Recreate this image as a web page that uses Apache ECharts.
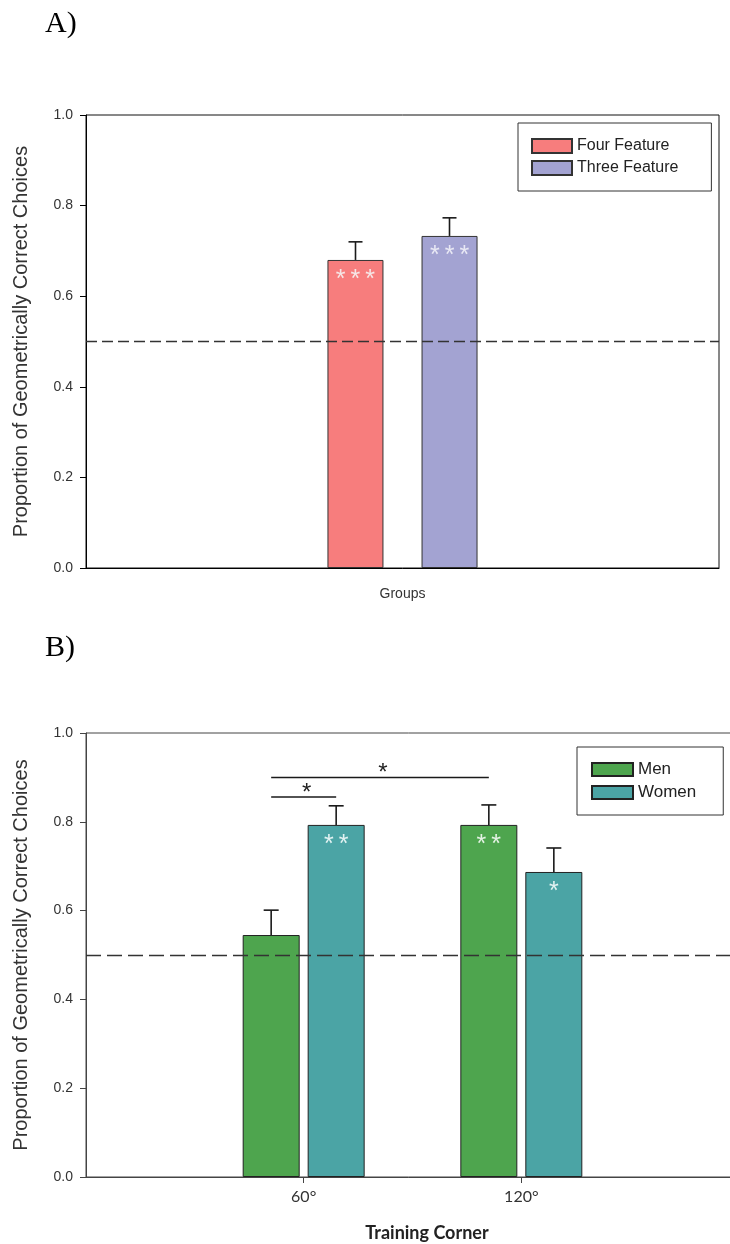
<!DOCTYPE html>
<html>
<head>
<meta charset="utf-8">
<script src="https://cdn.jsdelivr.net/npm/echarts@6/dist/echarts.min.js"></script>
<style>
html,body{margin:0;padding:0;background:#fff;}
#chart{width:730px;height:1244px;}
</style>
</head>
<body>
<div id="chart"></div>
<script>
// ---------- Data ----------
const panelATitle = 'A)';
const panelBTitle = 'B)';
const yAxisTitle = 'Proportion of Geometrically Correct Choices';
const chanceLevel = 0.5;

// Panel A
const groupsA = ['Groups'];
const namesA = ['Four Feature', 'Three Feature'];
const fourFeature = [0.68];
const fourFeatureUpper = [0.72];
const threeFeature = [0.733];
const threeFeatureUpper = [0.773];
const starsFour = ['***'];
const starsThree = ['***'];

// Panel B
const xTitleB = 'Training Corner';
const cornersB = ['', '60°', '120°', ''];
const namesB = ['Men', 'Women'];
const men = [null, 0.545, 0.793, null];
const menUpper = [null, 0.601, 0.838, null];
const women = [null, 0.793, 0.687, null];
const womenUpper = [null, 0.836, 0.741, null];
const starsMen = ['', '', '**', ''];
const starsWomen = ['', '**', '*', ''];
// comparisons: [fromCategoryIndex, fromSeries, toCategoryIndex, toSeries, height, mark]
const comparisonsB = [
  [1, 'Men', 2, 'Men', 0.90, '*'],
  [1, 'Men', 1, 'Women', 0.856, '*']
];

// ---------- Helpers ----------
const sansFont = '"Liberation Sans", Arial, sans-serif';
const narrowFont = '"Liberation Sans Narrow", Lato, sans-serif';
const spaced = s => (s || '').split('').join('\u2009');

function errData(mean, upper) {
  const out = [];
  mean.forEach((m, i) => { if (m != null) out.push([i, m, upper[i]]); });
  return out;
}
function errRender(offset, capHalf) {
  return function (params, api) {
    const i = api.value(0), m = api.value(1), t = api.value(2);
    const base = api.coord([i, m]);
    const top = api.coord([i, t]);
    const x = base[0] + offset;
    const st = { stroke: '#1a1a1a', lineWidth: 1.6 };
    return {
      type: 'group',
      children: [
        { type: 'line', shape: { x1: x, y1: base[1], x2: x, y2: top[1] }, style: st },
        { type: 'line', shape: { x1: x - capHalf, y1: top[1], x2: x + capHalf, y2: top[1] }, style: st }
      ]
    };
  };
}
const offB = 32.5;
const offA = 47;

const yAxisCommon = {
  type: 'value', min: 0, max: 1, interval: 0.2,
  name: yAxisTitle, nameLocation: 'middle', nameGap: 55,
  nameTextStyle: { fontSize: 20, color: '#333', fontFamily: sansFont },
  axisLabel: { formatter: v => v.toFixed(1), fontSize: 14, color: '#333', fontFamily: sansFont, margin: 13 },
  splitLine: { show: false }
};

const starLabel = (arr, color) => ({
  show: true, position: 'insideTop', distance: 8,
  formatter: p => spaced(arr[p.dataIndex]),
  color: color, fontSize: 25, fontFamily: sansFont
});

const option = {
  animation: false,
  backgroundColor: '#fff',
  title: [
    { text: panelATitle, left: 40, top: 4, textStyle: { fontFamily: '"Liberation Serif", serif', fontSize: 30, fontWeight: 'normal', color: '#000' } },
    { text: panelBTitle, left: 40, top: 628, textStyle: { fontFamily: '"Liberation Serif", serif', fontSize: 30, fontWeight: 'normal', color: '#000' } }
  ],
  grid: [
    { left: 86, top: 115, width: 633, height: 453, show: true, borderColor: '#111', borderWidth: 1, backgroundColor: 'transparent', outerBoundsMode: 'none' },
    { left: 86, top: 733, width: 653, height: 444, show: true, borderColor: '#444', borderWidth: 1, backgroundColor: 'transparent', outerBoundsMode: 'none' }
  ],
  legend: [
    {
      data: namesA, orient: 'vertical', left: 518, top: 123,
      itemWidth: 40, itemHeight: 14, itemGap: 6,
      padding: [15, 33, 15, 13],
      borderColor: '#333', borderWidth: 1,
      icon: 'rect',
      textStyle: { fontSize: 16, color: '#222', fontFamily: sansFont }
    },
    {
      data: namesB, orient: 'vertical', left: 577, top: 747,
      itemWidth: 41, itemHeight: 13, itemGap: 6,
      padding: [14, 27, 14, 14],
      borderColor: '#333', borderWidth: 1,
      icon: 'rect',
      textStyle: { fontSize: 17, color: '#222', fontFamily: sansFont }
    }
  ],
  xAxis: [
    {
      type: 'category', gridIndex: 0, data: groupsA, boundaryGap: true,
      axisLine: { lineStyle: { color: '#000', width: 1 } },
      axisTick: { alignWithLabel: true, length: 6, lineStyle: { color: '#000' } },
      axisLabel: { fontSize: 14, color: '#333', fontFamily: sansFont, margin: 19 }
    },
    {
      type: 'category', gridIndex: 1, data: cornersB, boundaryGap: false,
      axisLine: { lineStyle: { color: '#444', width: 1 } },
      axisTick: { length: 6, interval: (i, v) => v !== '', lineStyle: { color: '#444' } },
      axisLabel: { fontSize: 16, color: '#333', fontFamily: narrowFont, margin: 12, interval: 0 },
      name: xTitleB, nameLocation: 'middle', nameGap: 47,
      nameTextStyle: { fontSize: 18, color: '#222', fontFamily: narrowFont, fontWeight: 'bold', padding: [0, 0, 0, 29] }
    }
  ],
  yAxis: [
    Object.assign({}, yAxisCommon, { gridIndex: 0, axisLine: { show: true, lineStyle: { color: '#000' } }, axisTick: { show: true, length: 6, lineStyle: { color: '#000' } } }),
    Object.assign({}, yAxisCommon, { gridIndex: 1, axisLine: { show: true, lineStyle: { color: '#444' } }, axisTick: { show: true, length: 6, lineStyle: { color: '#444' } } })
  ],
  series: [
    {
      name: namesA[0], type: 'bar', xAxisIndex: 0, yAxisIndex: 0, data: fourFeature,
      barWidth: 56, barGap: '68%',
      itemStyle: { color: '#f77d7d', borderColor: '#333', borderWidth: 1 },
      label: starLabel(starsFour, '#f6e6e6'),
      markLine: {
        silent: true, symbol: 'none', label: { show: false },
        lineStyle: { type: [11, 5], color: '#333', width: 1.3 },
        data: [{ yAxis: chanceLevel }]
      }
    },
    {
      name: namesA[1], type: 'bar', xAxisIndex: 0, yAxisIndex: 0, data: threeFeature,
      barWidth: 56, barGap: '68%',
      itemStyle: { color: '#a3a3d2', borderColor: '#333', borderWidth: 1 },
      label: starLabel(starsThree, '#e8e8f4')
    },
    {
      type: 'custom', xAxisIndex: 0, yAxisIndex: 0, z: 3,
      data: errData(fourFeature, fourFeatureUpper), renderItem: errRender(-offA, 7)
    },
    {
      type: 'custom', xAxisIndex: 0, yAxisIndex: 0, z: 3,
      data: errData(threeFeature, threeFeatureUpper), renderItem: errRender(offA, 7)
    },
    {
      name: namesB[0], type: 'bar', xAxisIndex: 1, yAxisIndex: 1, data: men,
      barWidth: 57, barGap: '14%',
      itemStyle: { color: '#4ea54e', borderColor: '#222', borderWidth: 1 },
      label: starLabel(starsMen, '#e4f2e4'),
      markLine: {
        silent: true, symbol: 'none', label: { show: false },
        lineStyle: { type: [15, 6], color: '#333', width: 1.3 },
        data: [{ yAxis: chanceLevel }]
      }
    },
    {
      name: namesB[1], type: 'bar', xAxisIndex: 1, yAxisIndex: 1, data: women,
      barWidth: 57, barGap: '14%',
      itemStyle: { color: '#4ba4a5', borderColor: '#222', borderWidth: 1 },
      label: starLabel(starsWomen, '#e2f2f2')
    },
    {
      type: 'custom', xAxisIndex: 1, yAxisIndex: 1, z: 3,
      data: errData(men, menUpper), renderItem: errRender(-offB, 7.5)
    },
    {
      type: 'custom', xAxisIndex: 1, yAxisIndex: 1, z: 3,
      data: errData(women, womenUpper), renderItem: errRender(offB, 7.5)
    },
    {
      type: 'custom', xAxisIndex: 1, yAxisIndex: 1, z: 4,
      data: comparisonsB.map(c => [c[0], namesB.indexOf(c[1]), c[2], namesB.indexOf(c[3]), c[4]]),
      renderItem: function (params, api) {
        const c0 = api.value(0), s0 = api.value(1), c1 = api.value(2), s1 = api.value(3), h = api.value(4);
        const p0 = api.coord([c0, h]);
        const p1 = api.coord([c1, h]);
        const x0 = p0[0] + (s0 === 0 ? -offB : offB);
        const x1 = p1[0] + (s1 === 0 ? -offB : offB);
        const mark = comparisonsB[params.dataIndex][5];
        return {
          type: 'group',
          children: [
            { type: 'line', shape: { x1: x0, y1: p0[1], x2: x1, y2: p0[1] }, style: { stroke: '#1a1a1a', lineWidth: 1.5 } },
            { type: 'text', x: (x0 + x1) / 2 + 3, y: p0[1] - 16, style: { text: mark, fill: '#222', fontSize: 24, fontFamily: sansFont, align: 'center', verticalAlign: 'top' } }
          ]
        };
      }
    }
  ]
};

const chart = echarts.init(document.getElementById('chart'), null, { renderer: 'canvas' });
chart.setOption(option);
</script>
</body>
</html>
